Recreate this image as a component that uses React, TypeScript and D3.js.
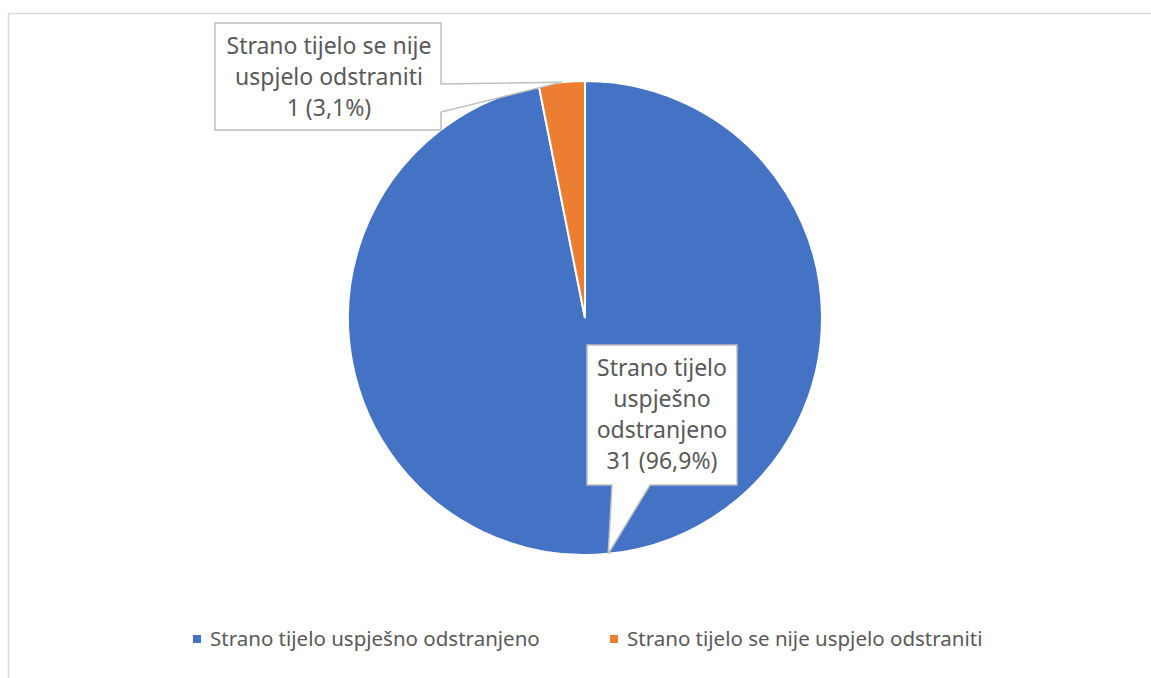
import { useEffect, useRef } from 'react';
import * as d3 from 'd3';

const categories = ['Strano tijelo uspješno odstranjeno', 'Strano tijelo se nije uspjelo odstraniti'];
const values = [31, 1];
const percents = ['96,9%', '3,1%'];
const colors = ['#4472c4', '#ed7d31'];
const labelLines = [
  ['Strano tijelo', 'uspješno', 'odstranjeno'],
  ['Strano tijelo se nije', 'uspjelo odstraniti'],
];

const width = 1151;
const height = 678;
const font = "'Noto Sans', sans-serif";

const App = () => {
  const svgRef = useRef<SVGSVGElement | null>(null);

  useEffect(() => {
    if (!svgRef.current) return;
    const svg = d3.select(svgRef.current);
    svg.selectAll('*').remove();

    // frame
    svg.append('rect')
      .attr('x', 8.5).attr('y', 13.5)
      .attr('width', width + 20).attr('height', height + 20)
      .attr('fill', 'white').attr('stroke', '#d9d9d9').attr('stroke-width', 1.5);

    const cx = 585, cy = 318, r = 237;
    const pie = d3.pie<number>().sort(null)(values);
    const arc = d3.arc<d3.PieArcDatum<number>>().innerRadius(0).outerRadius(r);

    const g = svg.append('g').attr('transform', `translate(${cx},${cy})`);
    g.selectAll('path')
      .data(pie)
      .enter()
      .append('path')
      .attr('d', arc)
      .attr('fill', (_d, i) => colors[i])
      .attr('stroke', 'white')
      .attr('stroke-width', 2);

    const edge = (a: number): [number, number] => [cx + Math.sin(a) * r, cy - Math.cos(a) * r];

    // callout for orange slice
    const oa = pie[1];
    const tipO = edge((oa.startAngle + oa.endAngle) / 2);
    const bx = 215, by = 23, bw = 226, bh = 107;
    const oPath = d3.path();
    oPath.moveTo(bx, by);
    oPath.lineTo(bx + bw, by);
    oPath.lineTo(bx + bw, by + 61);
    oPath.lineTo(tipO[0], tipO[1]);
    oPath.lineTo(bx + bw, by + 89);
    oPath.lineTo(bx + bw, by + bh);
    oPath.lineTo(bx, by + bh);
    oPath.closePath();
    svg.append('path').attr('d', oPath.toString())
      .attr('fill', 'white').attr('stroke', '#bfbfbf').attr('stroke-width', 1.5);

    const oText = [...labelLines[1], `${values[1]} (${percents[1]})`];
    svg.append('g').selectAll('text')
      .data(oText)
      .enter()
      .append('text')
      .attr('x', bx + bw / 2 + 1)
      .attr('y', (_d, i) => by + 31 + i * 31)
      .attr('text-anchor', 'middle')
      .attr('font-family', font)
      .attr('font-size', 23)
      .attr('fill', '#595959')
      .text(d => d);

    // callout for blue slice
    const ba = pie[0];
    const tipB = edge((ba.startAngle + ba.endAngle) / 2);
    const b2x = 587, b2y = 345, b2w = 150, b2h = 140;
    const bPath = d3.path();
    bPath.moveTo(b2x, b2y);
    bPath.lineTo(b2x + b2w, b2y);
    bPath.lineTo(b2x + b2w, b2y + b2h);
    bPath.lineTo(650, b2y + b2h);
    bPath.lineTo(tipB[0], tipB[1]);
    bPath.lineTo(612, b2y + b2h);
    bPath.lineTo(b2x, b2y + b2h);
    bPath.closePath();
    svg.append('path').attr('d', bPath.toString())
      .attr('fill', 'white').attr('stroke', '#bfbfbf').attr('stroke-width', 1.5);

    const bText = [...labelLines[0], `${values[0]} (${percents[0]})`];
    svg.append('g').selectAll('text')
      .data(bText)
      .enter()
      .append('text')
      .attr('x', b2x + b2w / 2)
      .attr('y', (_d, i) => b2y + 31 + i * 31)
      .attr('text-anchor', 'middle')
      .attr('font-family', font)
      .attr('font-size', 23)
      .attr('fill', '#595959')
      .text(d => d);

    // legend
    const legendX = [193, 610];
    const lg = svg.append('g');
    categories.forEach((c, i) => {
      lg.append('rect')
        .attr('x', legendX[i]).attr('y', 635)
        .attr('width', 8).attr('height', 8)
        .attr('fill', colors[i]);
      lg.append('text')
        .attr('x', legendX[i] + 17).attr('y', 646)
        .attr('font-family', font)
        .attr('font-size', 20.5)
        .attr('fill', '#595959')
        .text(c);
    });
  }, []);

  return (
    <svg ref={svgRef} width={width} height={height}
      style={{ position: 'absolute', left: 0, top: 0, display: 'block' }} />
  );
};

export default App;
